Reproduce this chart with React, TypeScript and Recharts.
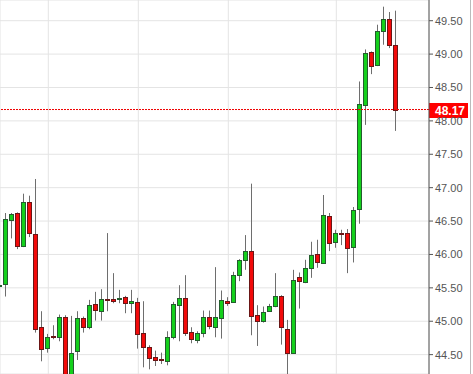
import React from 'react';
import { ComposedChart, Bar, XAxis, YAxis, CartesianGrid, ReferenceLine } from 'recharts';

// daily candles (oldest first)
const opens = [
  45.54, 45.56, 46.52, 46.62, 46.12, 46.79, 46.31, 44.91, 44.60, 44.78,
  44.76, 45.07, 44.10, 44.56, 45.05, 44.92, 45.26, 45.16, 45.34, 45.33,
  45.33, 45.36, 45.28, 45.29, 44.82, 44.61, 44.47, 44.43, 44.41, 44.77,
  45.24, 45.35, 44.84, 44.72, 44.82, 45.06, 44.91, 45.05, 45.31, 45.29,
  45.69, 45.92, 46.05, 45.09, 45.00, 45.15, 45.23, 45.38, 44.88, 44.53,
  45.66, 45.59, 45.80, 46.01, 45.87, 46.58, 46.19, 46.32, 46.32, 46.11,
  46.68, 48.24, 49.03, 48.84, 49.35, 49.53, 49.14,
];
const highs = [
  46.31, 46.62, 46.62, 46.63, 46.91, 46.88, 47.13, 45.15, 44.81, 44.94,
  45.10, 45.09, 45.08, 45.15, 45.07, 45.32, 45.44, 45.48, 46.32, 45.72,
  45.47, 45.38, 45.47, 45.35, 45.30, 44.64, 44.56, 44.53, 44.85, 45.29,
  45.54, 45.69, 44.91, 44.85, 45.16, 45.16, 45.81, 45.46, 45.36, 45.74,
  45.93, 46.29, 47.06, 45.24, 45.22, 45.26, 45.72, 45.39, 45.02, 45.77,
  45.73, 45.92, 46.19, 46.22, 46.89, 46.62, 46.37, 46.37, 46.38, 46.71,
  48.59, 49.07, 49.04, 49.44, 49.71, 49.63, 49.65,
];
const lows = [
  45.37, 45.37, 46.24, 46.08, 46.11, 46.26, 44.83, 44.40, 44.53, 44.73,
  44.70, 44.00, 44.00, 44.42, 44.83, 44.88, 45.01, 45.01, 45.15, 45.27,
  45.27, 45.12, 45.12, 44.59, 44.31, 44.28, 44.33, 44.36, 44.34, 44.73,
  44.70, 44.78, 44.67, 44.67, 44.76, 44.88, 44.76, 44.74, 45.23, 45.29,
  45.60, 45.77, 44.79, 44.63, 44.98, 45.14, 45.21, 44.65, 44.10, 44.52,
  45.19, 45.57, 45.65, 45.80, 45.86, 46.05, 46.10, 46.14, 45.72, 45.88,
  46.46, 47.94, 48.70, 48.82, 49.14, 49.09, 47.85,
];
const closes = [
  45.55, 46.53, 46.61, 46.12, 46.79, 46.32, 44.88, 44.58, 44.76, 44.77,
  45.07, 44.10, 44.53, 45.05, 44.92, 45.24, 45.17, 45.33, 45.32, 45.31,
  45.35, 45.27, 45.30, 44.81, 44.61, 44.45, 44.42, 44.42, 44.77, 45.26,
  45.35, 44.82, 44.74, 44.82, 45.06, 44.93, 45.06, 45.32, 45.28, 45.69,
  45.92, 46.05, 45.08, 45.00, 45.14, 45.23, 45.38, 44.91, 44.53, 45.62,
  45.60, 45.80, 45.99, 45.89, 46.59, 46.17, 46.32, 46.31, 46.10, 46.67,
  48.25, 49.02, 48.82, 49.35, 49.53, 49.14, 48.17,
];

const priceTicks = [44.5, 45, 45.5, 46, 46.5, 47, 47.5, 48, 48.5, 49, 49.5];
const gridSlots = [8, 23, 38, 56];
const lastPrice = 48.17;

const data = opens.map((open, i) => ({
  i,
  open,
  high: highs[i],
  low: lows[i],
  close: closes[i],
}));

const FONT = '"Liberation Sans", Arial, sans-serif';

const Candle = (props: any) => {
  const { x, y, width, height, payload } = props;
  if (x == null || y == null) return null;
  const { open, high, low, close } = payload;
  const px = Math.floor(x + width / 2) + 0.5;
  const range = high - low || 1;
  const toY = (v: number) => y + ((high - v) / range) * height;
  const up = close >= open;
  const top = Math.round(toY(Math.max(open, close))) + 0.5;
  const bottom = Math.round(toY(Math.min(open, close))) + 0.5;
  const h = Math.max(bottom - top, 1);
  return (
    <g>
      <line x1={px} x2={px} y1={y} y2={y + height} stroke="#6e6e6e" strokeWidth={1} />
      <rect
        x={px - 2}
        y={top}
        width={4}
        height={h}
        fill={up ? '#14d01c' : '#f20a0a'}
        stroke={up ? '#245c2e' : '#6a1616'}
        strokeWidth={1}
      />
    </g>
  );
};

const PriceTag = ({ viewBox }: any) => {
  if (!viewBox) return null;
  const x = viewBox.x + viewBox.width;
  const y = Math.round(viewBox.y);
  return (
    <g>
      <rect x={x} y={y - 7} width={39} height={15} fill="#f00" />
      <text x={x + 6} y={y + 5} fill="#fff" fontSize={12} fontWeight="bold" fontFamily={FONT}>
        {lastPrice.toFixed(2)}
      </text>
    </g>
  );
};

export default function App() {
  return (
    <div style={{ position: 'absolute', left: 0, top: 0, width: 473, height: 374, background: '#fff' }}>
      <div style={{ position: 'absolute', left: 470, top: 0, width: 1, height: 374, background: '#bbb' }} />
      <ComposedChart width={470} height={374} data={data} margin={{ top: 0, right: 0, bottom: 0, left: 0 }}>
        <CartesianGrid stroke="#e4e4e4" />
        <XAxis type="number" dataKey="i" domain={[-0.05, 71.45]} ticks={gridSlots} hide allowDataOverflow />
        <YAxis
          orientation="right"
          domain={[44.21, 49.81]}
          allowDataOverflow
          ticks={priceTicks}
          interval={0}
          tickFormatter={(v: number) => v.toFixed(2)}
          width={41}
          tickSize={4}
          axisLine={{ stroke: '#555' }}
          tickLine={{ stroke: '#555' }}
          tick={{ fill: '#555', fontSize: 11, fontFamily: FONT }}
        />
        <Bar
          dataKey={(d: any) => [d.low, d.high]}
          barSize={5}
          shape={<Candle />}
          isAnimationActive={false}
        />
        <ReferenceLine
          y={lastPrice}
          stroke="#e00"
          strokeDasharray="2 1"
          label={(p: any) => <PriceTag {...p} />}
        />
      </ComposedChart>
    </div>
  );
}
